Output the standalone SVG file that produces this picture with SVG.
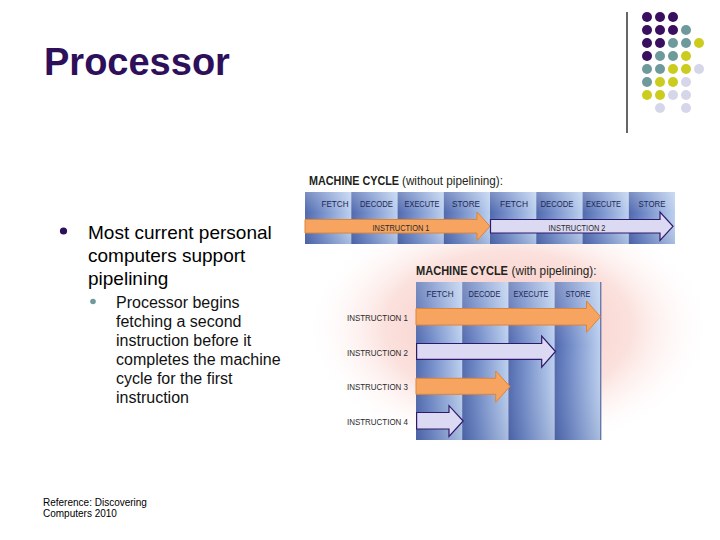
<svg xmlns="http://www.w3.org/2000/svg" width="720" height="540" viewBox="0 0 720 540">
<defs>
<style>
.title{font-family:"Liberation Sans",Arial,sans-serif;font-weight:bold;font-size:38px;fill:#2e0f5a}
.main{font-family:"Liberation Sans",Arial,sans-serif;font-size:19px;fill:#000}
.sub{font-family:"Liberation Sans",Arial,sans-serif;font-size:16px;fill:#111}
.ref{font-family:"Liberation Sans",Arial,sans-serif;font-size:10px;fill:#000}
.hd{font-family:"Liberation Sans",Arial,sans-serif;font-size:12px;fill:#231f20}
.hd tspan.b{font-weight:bold}
.col{font-family:"Liberation Sans",Arial,sans-serif;font-size:8.5px;fill:#1e2752;text-anchor:middle}
.ins{font-family:"Liberation Sans",Arial,sans-serif;font-size:8.5px;fill:#2a2a2a}
.or{fill:#f6a460;stroke:#de8438;stroke-width:1}
.lv{fill:#dcd9f2;stroke:#2e1a6b;stroke-width:1.2}
.P{fill:#3b0f5f}.T{fill:#6e9a9c}.Y{fill:#cccc1e}.L{fill:#d6d6ea}
</style>
<linearGradient id="colg" x1="0" y1="0" x2="1" y2="0">
<stop offset="0" stop-color="#5069ad"/>
<stop offset="0.35" stop-color="#738dc9"/>
<stop offset="1" stop-color="#bcd0ef"/>
</linearGradient>
<linearGradient id="vsh" x1="0" y1="0" x2="0" y2="1">
<stop offset="0" stop-color="#ffffff" stop-opacity="0.25"/>
<stop offset="0.4" stop-color="#ffffff" stop-opacity="0"/>
<stop offset="1" stop-color="#1a2a60" stop-opacity="0.12"/>
</linearGradient>
<radialGradient id="glow" cx="0.5" cy="0.5" r="0.5">
<stop offset="0" stop-color="#f6c2bc"/>
<stop offset="0.6" stop-color="#fbe1dd"/>
<stop offset="1" stop-color="#ffffff" stop-opacity="0"/>
</radialGradient>
</defs>
<rect width="720" height="540" fill="#ffffff"/>

<g id="title"><text class="title" x="44" y="75">Processor</text></g>

<g id="decor">
<line x1="627" y1="12" x2="627" y2="133" stroke="#000" stroke-width="1.2"/>
<circle class="P" cx="647" cy="17" r="5"/><circle class="P" cx="660" cy="17" r="5"/><circle class="P" cx="673" cy="17" r="5"/>
<circle class="P" cx="647" cy="30" r="5"/><circle class="P" cx="660" cy="30" r="5"/><circle class="P" cx="673" cy="30" r="5"/><circle class="T" cx="686" cy="30" r="5"/>
<circle class="P" cx="647" cy="43" r="5"/><circle class="P" cx="660" cy="43" r="5"/><circle class="T" cx="673" cy="43" r="5"/><circle class="T" cx="686" cy="43" r="5"/><circle class="Y" cx="699" cy="43" r="5"/>
<circle class="P" cx="647" cy="56" r="5"/><circle class="T" cx="660" cy="56" r="5"/><circle class="T" cx="673" cy="56" r="5"/><circle class="Y" cx="686" cy="56" r="5"/>
<circle class="T" cx="647" cy="69" r="5"/><circle class="T" cx="660" cy="69" r="5"/><circle class="Y" cx="673" cy="69" r="5"/><circle class="Y" cx="686" cy="69" r="5"/><circle class="L" cx="699" cy="69" r="5"/>
<circle class="T" cx="647" cy="82" r="5"/><circle class="Y" cx="660" cy="82" r="5"/><circle class="Y" cx="673" cy="82" r="5"/><circle class="L" cx="686" cy="82" r="5"/>
<circle class="Y" cx="647" cy="95" r="5"/><circle class="Y" cx="660" cy="95" r="5"/><circle class="L" cx="673" cy="95" r="5"/><circle class="L" cx="686" cy="95" r="5"/>
<circle class="L" cx="660" cy="108" r="5"/><circle class="L" cx="686" cy="108" r="5"/>
</g>

<g id="bullets">
<circle cx="63.5" cy="231" r="3.6" fill="#2e0f5a"/>
<text class="main" x="88" y="238.5">Most current personal</text>
<text class="main" x="88" y="261.5">computers support</text>
<text class="main" x="88" y="284.5">pipelining</text>
<circle cx="93" cy="301.5" r="2.8" fill="#6e9a9c"/>
<text class="sub" x="116" y="307.5">Processor begins</text>
<text class="sub" x="116" y="326.5">fetching a second</text>
<text class="sub" x="116" y="345.5">instruction before it</text>
<text class="sub" x="116" y="365">completes the machine</text>
<text class="sub" x="116" y="384">cycle for the first</text>
<text class="sub" x="116" y="403">instruction</text>
</g>

<g id="reference">
<text class="ref" x="43" y="505.5">Reference: Discovering</text>
<text class="ref" x="43" y="516.5">Computers 2010</text>
</g>

<ellipse id="glow-bg" cx="508" cy="328" rx="205" ry="128" fill="url(#glow)"/>

<g id="no-pipeline">
<text class="hd" x="309" y="185"><tspan class="b" textLength="90" lengthAdjust="spacingAndGlyphs">MACHINE CYCLE</tspan><tspan x="402" textLength="101" lengthAdjust="spacingAndGlyphs">(without pipelining):</tspan></text>
<rect x="305" y="192" width="46.25" height="52" fill="url(#colg)"/>
<rect x="351.25" y="192" width="46.25" height="52" fill="url(#colg)"/>
<rect x="397.5" y="192" width="46.25" height="52" fill="url(#colg)"/>
<rect x="443.75" y="192" width="46.25" height="52" fill="url(#colg)"/>
<rect x="490" y="192" width="46.25" height="52" fill="url(#colg)"/>
<rect x="536.25" y="192" width="46.25" height="52" fill="url(#colg)"/>
<rect x="582.5" y="192" width="46.25" height="52" fill="url(#colg)"/>
<rect x="628.75" y="192" width="46.25" height="52" fill="url(#colg)"/>
<rect x="305" y="192" width="370" height="52" fill="url(#vsh)"/>
<text class="col" x="335" y="206.5" textLength="27" lengthAdjust="spacingAndGlyphs">FETCH</text>
<text class="col" x="376.5" y="206.5" textLength="33" lengthAdjust="spacingAndGlyphs">DECODE</text>
<text class="col" x="422" y="206.5" textLength="35" lengthAdjust="spacingAndGlyphs">EXECUTE</text>
<text class="col" x="466" y="206.5" textLength="28" lengthAdjust="spacingAndGlyphs">STORE</text>
<text class="col" x="514" y="206.5" textLength="28" lengthAdjust="spacingAndGlyphs">FETCH</text>
<text class="col" x="557" y="206.5" textLength="33" lengthAdjust="spacingAndGlyphs">DECODE</text>
<text class="col" x="603.5" y="206.5" textLength="35" lengthAdjust="spacingAndGlyphs">EXECUTE</text>
<text class="col" x="652" y="206.5" textLength="27" lengthAdjust="spacingAndGlyphs">STORE</text>
</g>

<g id="arrows-no-pipeline">
<path class="or" d="M305,219.5 H477 V212 L490,226.3 L477,240.5 V233 H305 Z"/>
<path class="lv" d="M490.5,219.5 H660 V212 L673,226.3 L660,240.5 V233 H490.5 Z"/>
<text class="ins" x="401" y="231" text-anchor="middle" textLength="57" lengthAdjust="spacingAndGlyphs">INSTRUCTION 1</text>
<text class="ins" x="577" y="231" text-anchor="middle" textLength="57" lengthAdjust="spacingAndGlyphs">INSTRUCTION 2</text>
</g>

<g id="pipeline">
<text class="hd" x="416" y="275"><tspan class="b" textLength="92" lengthAdjust="spacingAndGlyphs">MACHINE CYCLE</tspan><tspan x="511.5" textLength="85" lengthAdjust="spacingAndGlyphs">(with pipelining):</tspan></text>
<rect x="416" y="282" width="46.2" height="158" fill="url(#colg)"/>
<rect x="462.2" y="282" width="46.2" height="158" fill="url(#colg)"/>
<rect x="508.4" y="282" width="46.2" height="158" fill="url(#colg)"/>
<rect x="554.6" y="282" width="46.2" height="158" fill="url(#colg)"/>
<rect x="416" y="282" width="184.8" height="158" fill="url(#vsh)"/>
<line x1="600.8" y1="282" x2="600.8" y2="440" stroke="#3f5493" stroke-width="1"/>
<text class="col" x="440" y="296.5" textLength="27" lengthAdjust="spacingAndGlyphs">FETCH</text>
<text class="col" x="484.5" y="296.5" textLength="32" lengthAdjust="spacingAndGlyphs">DECODE</text>
<text class="col" x="531" y="296.5" textLength="35" lengthAdjust="spacingAndGlyphs">EXECUTE</text>
<text class="col" x="578" y="296.5" textLength="25" lengthAdjust="spacingAndGlyphs">STORE</text>
</g>

<g id="arrows-pipeline">
<path class="or" d="M416,308.5 H586.5 V301 L600.5,316.7 L586.5,332.3 V325 H416 Z"/>
<path class="lv" d="M416.6,343.5 H541.7 V336 L555.5,351.5 L541.7,367.2 V359.3 H416.6 Z"/>
<path class="or" d="M416,378.3 H495.7 V371 L510,386.5 L495.7,402.2 V394.3 H416 Z"/>
<path class="lv" d="M416.6,412.5 H449 V405.7 L463.2,421 L449,436.5 V429 H416.6 Z"/>
<text class="ins" x="347" y="320.5" textLength="61" lengthAdjust="spacingAndGlyphs">INSTRUCTION 1</text>
<text class="ins" x="347" y="355.5" textLength="61" lengthAdjust="spacingAndGlyphs">INSTRUCTION 2</text>
<text class="ins" x="347" y="390" textLength="61" lengthAdjust="spacingAndGlyphs">INSTRUCTION 3</text>
<text class="ins" x="347" y="424.5" textLength="61" lengthAdjust="spacingAndGlyphs">INSTRUCTION 4</text>
</g>
</svg>
